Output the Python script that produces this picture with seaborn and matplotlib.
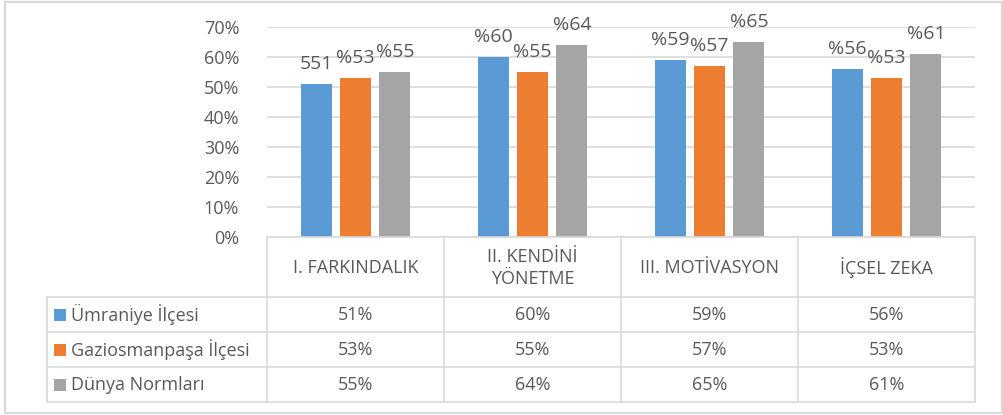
import matplotlib
matplotlib.use("Agg")
import matplotlib.pyplot as plt
import seaborn as sns
import pandas as pd
from matplotlib.lines import Line2D
from matplotlib.patches import Rectangle

categories = ["I. FARKINDALIK", "II. KENDİNİ\nYÖNETME", "III. MOTİVASYON", "İÇSEL ZEKA"]
series = ["Ümraniye İlçesi", "Gaziosmanpaşa İlçesi", "Dünya Normları"]
umraniye = [51, 60, 59, 56]
gaziosmanpasa = [53, 55, 57, 53]
dunya = [55, 64, 65, 61]
bar_labels = [["551", "%60", "%59", "%56"],
              ["%53", "%55", "%57", "%53"],
              ["%55", "%64", "%65", "%61"]]
yticks = [0, 10, 20, 30, 40, 50, 60, 70]
colors = ["#5B9BD5", "#ED7D31", "#A5A5A5"]

sns.set_theme(style="white")
plt.rcParams["font.family"] = ["Open Sans", "DejaVu Sans"]
TXT = "#595959"
GRID = "#D9D9D9"

values = [umraniye, gaziosmanpasa, dunya]
df = pd.DataFrame({
    "cat": [c for s in series for c in categories],
    "series": [s for s in series for c in categories],
    "val": [v / 100 for vals in values for v in vals],
})

W, H = 1004, 415
fig = plt.figure(figsize=(W / 100, H / 100), dpi=100)
fig.patch.set_facecolor("white")

x0, x1 = 267, 975
ytop, ybot = 27, 237
ax = fig.add_axes([x0 / W, 1 - ybot / H, (x1 - x0) / W, (ybot - ytop) / H])
sns.barplot(data=df, x="cat", y="val", hue="series", palette=colors,
            order=categories, hue_order=series, width=0.667, gap=0.21,
            ax=ax, legend=False, saturation=1, edgecolor="none")
ax.set_xlim(-0.5, 3.5)
ax.set_ylim(0, 0.7)
ax.set_yticks([t / 100 for t in yticks])
ax.set_yticklabels([f"{t}%" for t in yticks], color=TXT, fontsize=13)
ax.tick_params(axis="y", length=0, pad=20)
ax.set_xticks([])
ax.set_xlabel("")
ax.set_ylabel("")
for s in ax.spines.values():
    s.set_visible(False)
ax.grid(axis="y", color=GRID, lw=1.2)
ax.set_axisbelow(True)

for si, cont in enumerate(ax.containers):
    for ci, bar in enumerate(cont):
        ax.annotate(bar_labels[si][ci],
                    (bar.get_x() + bar.get_width() / 2, bar.get_height()),
                    xytext=(0, 11), textcoords="offset points",
                    ha="center", va="baseline", fontsize=14, color=TXT,
                    annotation_clip=False)

# table overlay in pixel coords
ov = fig.add_axes([0, 0, 1, 1], facecolor="none")
ov.set_xlim(0, W)
ov.set_ylim(H, 0)
ov.axis("off")

ov.add_patch(Rectangle((5, 2), 997, 411, fill=False, ec=GRID, lw=1.6))

col_w = (x1 - x0) / len(categories)
leg_x = 47
hdr_top, hdr_bot = 237, 297
row_h = 35
rows_y = [hdr_bot + i * row_h for i in range(len(series) + 1)]

lk = dict(color=GRID, lw=1.2)
ov.add_line(Line2D([x0, x1], [hdr_top, hdr_top], **lk))
for yy in rows_y:
    ov.add_line(Line2D([leg_x, x1], [yy, yy], **lk))
for i in range(len(categories) + 1):
    xx = x0 + i * col_w
    ov.add_line(Line2D([xx, xx], [hdr_top, rows_y[-1]], **lk))
ov.add_line(Line2D([leg_x, leg_x], [rows_y[0], rows_y[-1]], **lk))

for i, c in enumerate(categories):
    ov.text(x0 + (i + 0.5) * col_w, (hdr_top + hdr_bot) / 2 + 1, c,
            ha="center", va="center", fontsize=13, color=TXT, linespacing=1.3)

for r, s in enumerate(series):
    yc = rows_y[r] + row_h / 2
    ov.add_patch(Rectangle((54, yc - 6), 12, 12, color=colors[r], lw=0))
    ov.text(71, yc, s, ha="left", va="center", fontsize=13, color=TXT)
    for i in range(len(categories)):
        ov.text(x0 + (i + 0.5) * col_w, yc, f"{values[r][i]}%",
                ha="center", va="center", fontsize=13, color=TXT)

fig.savefig("out.png", dpi=100, facecolor="white")
